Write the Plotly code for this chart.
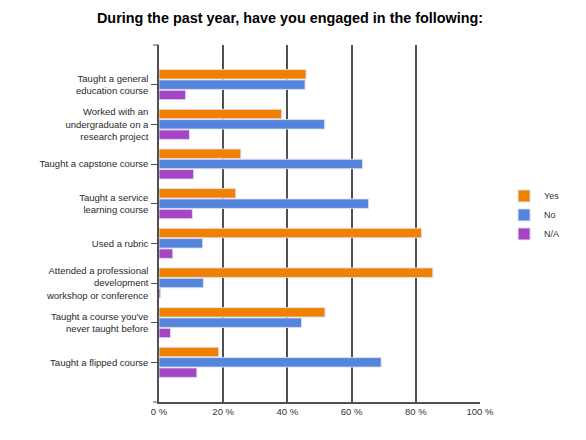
import plotly.graph_objects as go

categories = [
    "Taught a general<br>education course",
    "Worked with an<br>undergraduate on a<br>research project",
    "Taught a capstone course",
    "Taught a service<br>learning course",
    "Used a rubric",
    "Attended a professional<br>development<br>workshop or conference",
    "Taught a course you've<br>never taught before",
    "Taught a flipped course",
]
yes_vals = [45.8, 38.2, 25.5, 23.9, 81.8, 85.3, 51.7, 18.6]
no_vals = [45.5, 51.6, 63.4, 65.3, 13.6, 13.8, 44.4, 69.2]
na_vals = [8.3, 9.5, 10.8, 10.4, 4.3, 0.5, 3.6, 11.8]
x_ticks = [0, 20, 40, 60, 80, 100]
x_tick_labels = ["0 %", "20 %", "40 %", "60 %", "80 %", "100 %"]

series = [
    ("Yes", yes_vals, "#F08000"),
    ("No", no_vals, "#5484DC"),
    ("N/A", na_vals, "#A545C4"),
]

fig = go.Figure()
for name, vals, color in series:
    fig.add_trace(go.Bar(
        y=categories, x=vals, name=name, orientation="h",
        marker=dict(color=color, line=dict(color="rgba(225,225,240,0.9)", width=1)),
    ))

fig.update_layout(
    width=578, height=432,
    margin=dict(l=151, r=106, t=37, b=38),
    paper_bgcolor="white", plot_bgcolor="white",
    font=dict(family="Liberation Sans, Arial, sans-serif", size=9.5, color="#333333"),
    title=dict(text="During the past year, have you engaged in the following:",
               x=0.488, xanchor="center", y=0.977, yanchor="middle",
               font=dict(size=14.4, color="#000000", family="Liberation Sans, Arial, sans-serif", weight="bold")),
    barmode="group", bargap=0.22, bargroupgap=0.08,
    legend=dict(x=1.075, xanchor="left", y=0.524, yanchor="middle",
                font=dict(size=9, color="#333333"), itemwidth=30,
                tracegroupgap=0, bgcolor="rgba(0,0,0,0)"),
    xaxis=dict(range=[0, 100], tickvals=x_ticks, ticktext=x_tick_labels,
               showgrid=True, gridcolor="#505050", gridwidth=1.5,
               showline=True, linecolor="#505050", linewidth=1.5,
               zeroline=False, ticks="", tickfont=dict(size=9.5, color="#333333"),
               fixedrange=True),
    yaxis=dict(categoryorder="array", categoryarray=categories,
               range=[8, -1], showgrid=False, zeroline=False,
               showline=True, linecolor="#505050", linewidth=1.5,
               ticks="outside", ticklen=6, tickcolor="#505050", tickwidth=1,
               ticklabelstandoff=1,
               tickfont=dict(size=9.5, color="#2a2a2a"), fixedrange=True),
)

# small end ticks at the top and bottom of the category axis
for yp in (0, 1):
    fig.add_shape(type="line", xref="paper", yref="paper",
                  x0=-0.0187, x1=0, y0=yp, y1=yp,
                  line=dict(color="#505050", width=1))

fig.write_html("out.html")
